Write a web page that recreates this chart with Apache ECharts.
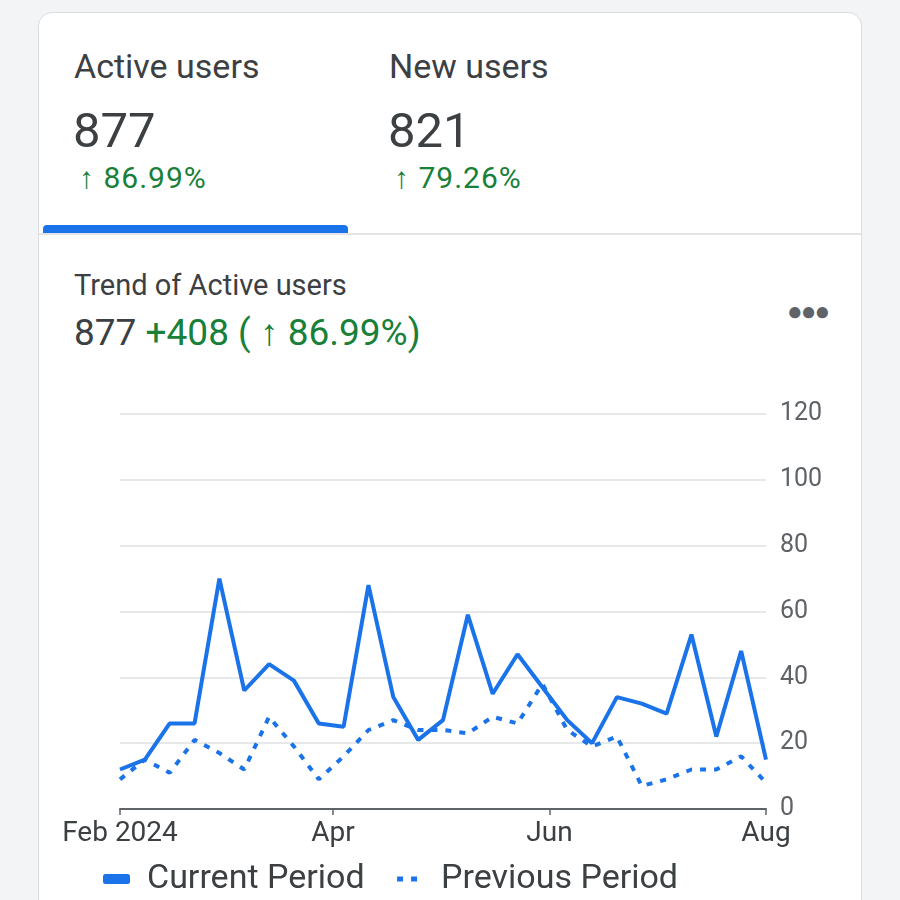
<!DOCTYPE html>
<html>
<head>
<meta charset="utf-8">
<script src="https://cdn.jsdelivr.net/npm/echarts@6/dist/echarts.min.js"></script>
<style>
  html, body { margin: 0; padding: 0; width: 900px; height: 900px; overflow: hidden; background: #f3f4f6; font-family: Roboto, "Noto Sans", sans-serif; }
  .card { position: absolute; left: 38px; top: 12px; width: 822px; height: 920px; background: #fff; border: 1px solid #dadce0; border-radius: 14px; }
  .t { position: absolute; white-space: nowrap; color: #3c4043; line-height: 1; }
  .green { color: #188038; }
  .tab { position: absolute; left: 4px; top: 212px; width: 305px; height: 8px; background: #1a73e8; border-radius: 4px 4px 0 0; }
  .divider { position: absolute; left: 0; right: 0; top: 220px; height: 2px; background: #e3e4e6; }
  #chart { position: absolute; left: 40px; top: 380px; width: 820px; height: 520px; }
</style>
</head>
<body>
<div class="card">
  <div class="t" style="left:35px;top:36px;font-size:34px;">Active users</div>
  <div class="t" style="left:34px;top:93px;font-size:49px;">877</div>
  <div class="t green" style="left:40px;top:150px;font-size:30px;letter-spacing:1px;">↑ 86.99%</div>
  <div class="t" style="left:350px;top:36px;font-size:34px;">New users</div>
  <div class="t" style="left:349px;top:93px;font-size:49px;">821</div>
  <div class="t green" style="left:355px;top:150px;font-size:30px;letter-spacing:1px;">↑ 79.26%</div>
  <div class="tab"></div>
  <div class="divider"></div>
  <div class="t" style="left:35px;top:258px;font-size:29px;">Trend of Active users</div>
  <div class="t" style="left:35px;top:301px;font-size:37px;">877 <span class="green">+408 ( ↑ 86.99%)</span></div>
  <div class="t" style="left:748px;top:283px;font-size:26px;line-height:normal;color:#5f6368;letter-spacing:-2px;">●●●</div>
</div>
<div id="chart"></div>
<script>
// weekly data points
const dates = [
  '2024-02-01', '2024-02-08', '2024-02-15', '2024-02-22', '2024-02-29',
  '2024-03-07', '2024-03-14', '2024-03-21', '2024-03-28', '2024-04-04',
  '2024-04-11', '2024-04-18', '2024-04-25', '2024-05-02', '2024-05-09',
  '2024-05-16', '2024-05-23', '2024-05-30', '2024-06-06', '2024-06-13',
  '2024-06-20', '2024-06-27', '2024-07-04', '2024-07-11', '2024-07-18',
  '2024-07-25', '2024-08-01'
]
const currentPeriod = [12, 15, 26, 26, 70, 36, 44, 39, 26, 25, 68, 34, 21, 27, 59, 35, 47, 37, 27, 20, 34, 32, 29, 53, 22, 48, 15]
const previousPeriod = [9, 15, 11, 21, 17, 12, 28, 19, 9, 16, 24, 27, 24, 24, 23, 28, 26, 38, 24, 19, 22, 7, 9, 12, 12, 16, 8]
const xTickDates = ['2024-02-01', '2024-04-01', '2024-06-01', '2024-08-01']
const xTickLabels = ['Feb 2024', 'Apr', 'Jun', 'Aug']
const seriesNames = ['Current Period', 'Previous Period']

const toTime = s => {
  const p = s.split('-').map(Number)
  return Date.UTC(p[0], p[1] - 1, p[2])
}
const tickTimes = xTickDates.map(toTime)

const myChart = echarts.init(document.getElementById('chart'))
const option = {
  animation: false,
  textStyle: { fontFamily: 'Roboto' },
  grid: { left: 80, right: 94, top: 34, bottom: 91, outerBoundsMode: 'none' },
  legend: {
    left: 63,
    top: 482,
    padding: 0,
    itemWidth: 27,
    itemHeight: 10,
    itemGap: 30,
    textStyle: { fontSize: 34, color: '#3c4043', padding: [0, 0, 0, 12] },
    data: [
      { name: seriesNames[0], icon: 'roundRect', itemStyle: { color: '#1a73e8', borderRadius: 5 } },
      { name: seriesNames[1], lineStyle: { width: 5, type: [6, 8], color: '#1a73e8' }, itemStyle: { opacity: 0 } }
    ]
  },
  xAxis: {
    type: 'value',
    min: tickTimes[0],
    max: tickTimes[tickTimes.length - 1],
    splitLine: { show: false },
    axisLine: { lineStyle: { color: '#5f6368', width: 2 } },
    axisTick: { show: true, customValues: tickTimes, length: 6, lineStyle: { color: '#5f6368', width: 1.5 } },
    axisLabel: {
      customValues: tickTimes,
      fontSize: 28,
      color: '#3c4043',
      margin: 11,
      hideOverlap: false,
      formatter: v => {
        const i = tickTimes.indexOf(v)
        return i >= 0 ? xTickLabels[i] : ''
      }
    }
  },
  yAxis: {
    type: 'value',
    position: 'right',
    min: 0,
    max: 120,
    interval: 20,
    axisLine: { show: false },
    axisTick: { show: false },
    axisLabel: { fontSize: 25, color: '#5f6368', margin: 14 },
    splitLine: { lineStyle: { color: '#dfe1e3', width: 1.5 } }
  },
  series: [
    {
      name: seriesNames[0],
      type: 'line',
      symbol: 'none',
      z: 3,
      lineStyle: { color: '#1a73e8', width: 4 },
      itemStyle: { color: '#1a73e8' },
      data: dates.map((d, i) => [toTime(d), currentPeriod[i]])
    },
    {
      name: seriesNames[1],
      type: 'line',
      symbol: 'none',
      z: 2,
      lineStyle: { color: '#1a73e8', width: 4, type: [6, 8] },
      itemStyle: { color: '#1a73e8' },
      data: dates.map((d, i) => [toTime(d), previousPeriod[i]])
    }
  ]
}
myChart.setOption(option)
</script>
</body>
</html>
